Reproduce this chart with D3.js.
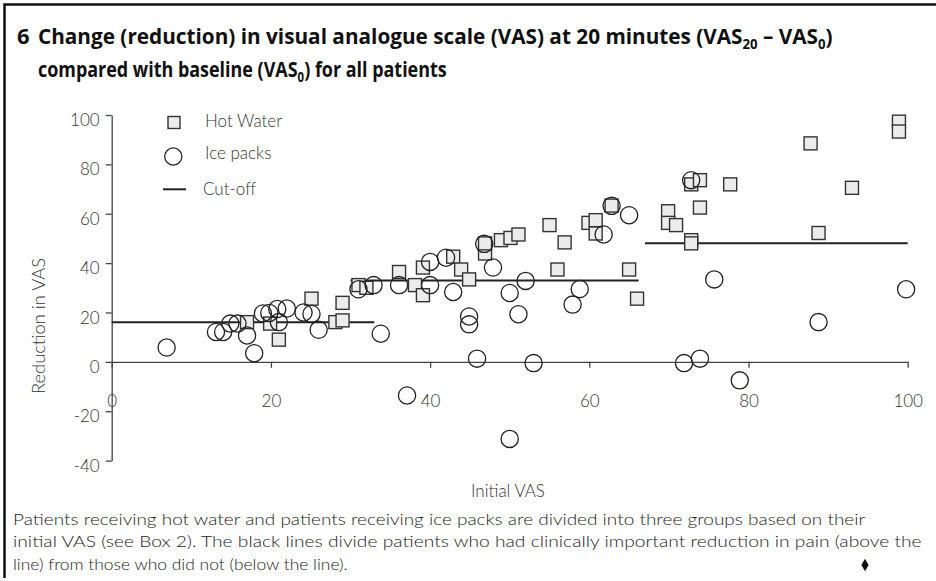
<!DOCTYPE html>
<html>
<head>
<meta charset="utf-8">
<script src="https://cdn.jsdelivr.net/npm/d3@7"></script>
<style>
  body { margin: 0; background: #fff; }
  svg { display: block; }
  .tick text { font-family: Lato, "Open Sans", sans-serif; font-weight: 300; font-size: 17px; fill: #333; }
  .axis path, .axis line { stroke: #444; stroke-width: 1.3; }
</style>
</head>
<body>
<svg id="chart" width="936" height="581"></svg>
<script>
// axis ticks
const xTicks = [0, 20, 40, 60, 80, 100];
const yTicks = [100, 80, 60, 40, 20, 0, -20, -40];

// hot water patients: initial VAS / reduction in VAS
const hotX = [17.0, 19.9, 21.0, 25.1, 28.1, 29.0, 29.0, 31.0, 32.0, 36.1, 38.1, 39.1, 39.1, 42.9, 43.9, 44.9,
  46.9, 46.9, 48.9, 50.1, 51.1, 55.0, 56.9, 56.0, 59.9, 60.8, 60.8, 62.8, 65.0, 66.0,
  69.9, 69.9, 70.9, 72.8, 73.9, 73.9, 72.8, 72.8, 77.7, 87.8, 88.8, 93.0, 98.9, 98.9];
const hotY = [16.1, 15.5, 9.0, 25.6, 16.1, 23.9, 16.8, 31.1, 30.0, 36.4, 31.1, 38.2, 27.0, 42.6, 37.4, 33.4,
  43.9, 48.0, 49.3, 50.2, 51.6, 55.4, 48.4, 37.4, 56.3, 57.4, 52.0, 63.3, 37.4, 25.6,
  61.0, 56.3, 55.4, 71.9, 73.6, 62.5, 49.3, 48.0, 71.9, 88.5, 52.2, 70.5, 97.3, 93.3];

// ice pack patients
const iceX = [6.9, 13.1, 14.0, 14.9, 15.8, 17.0, 17.9, 19.0, 19.8, 20.8, 22.0, 21.0, 24.1, 25.1, 26.0,
  31.0, 32.9, 33.8, 36.1, 37.1, 40.0, 40.0, 42.0, 42.9, 44.9, 44.9, 45.9, 46.8, 47.9, 50.0,
  51.1, 52.0, 53.0, 50.0, 57.9, 58.8, 61.8, 62.8, 65.0, 72.8, 75.7, 71.9, 73.9, 78.9, 88.8, 99.8];
const iceY = [5.8, 12.1, 12.1, 15.5, 15.5, 10.7, 3.5, 19.6, 19.8, 21.4, 21.6, 16.1, 20.0, 19.4, 13.0,
  29.4, 31.1, 11.4, 31.1, -13.6, 40.5, 31.1, 42.2, 28.3, 18.4, 15.2, 1.3, 47.8, 38.2, 27.9,
  19.3, 32.8, -0.5, -31.2, 23.2, 29.5, 51.6, 63.2, 59.4, 73.6, 33.4, -0.5, 1.3, -7.5, 16.1, 29.4];

// cut-off lines per initial VAS group
const cutFrom = [0, 30, 67];
const cutTo = [33, 66.2, 100];
const cutY = [16, 33, 48];

const legendLabels = ["Hot Water", "Ice packs", "Cut-off"];

const captionLines = [
  "Patients receiving hot water and patients receiving ice packs are divided into three groups based on their",
  "initial VAS (see Box 2). The black lines divide patients who had clinically important reduction in pain (above the",
  "line) from those who did not (below the line)."
];

const svg = d3.select("#chart");
const W = 936, H = 581;
svg.append("rect").attr("width", W).attr("height", H).attr("fill", "#fff");

// squeeze/stretch a text to a target width (the original uses a condensed face)
function fit(sel, x0, w) {
  const len = sel.node().getComputedTextLength();
  const s = w / len;
  sel.attr("transform", `translate(${x0},0) scale(${s},1) translate(${-x0},0)`);
}

// frame
svg.append("path")
  .attr("d", `M4.5,578 V4.5 H${W}`)
  .attr("fill", "none").attr("stroke", "#111").attr("stroke-width", 2.5);

// title
const tFont = "'Open Sans', 'DejaVu Sans', sans-serif";
svg.append("text").attr("x", 17).attr("y", 44)
  .attr("font-family", tFont).attr("font-weight", 700).attr("font-size", 22).attr("fill", "#111")
  .text("6");
const t1 = svg.append("text").attr("x", 38).attr("y", 44)
  .attr("font-family", tFont).attr("font-weight", 700).attr("font-size", 22).attr("fill", "#111");
t1.append("tspan").text("Change (reduction) in visual analogue scale (VAS) at 20 minutes (VAS");
t1.append("tspan").attr("font-size", 14).attr("dy", 5).text("20");
t1.append("tspan").attr("dy", -5).text(" \u2013 VAS");
t1.append("tspan").attr("font-size", 14).attr("dy", 5).text("0");
t1.append("tspan").attr("dy", -5).text(")");
fit(t1, 38, 795);

const t2 = svg.append("text").attr("x", 38).attr("y", 77)
  .attr("font-family", tFont).attr("font-weight", 700).attr("font-size", 22).attr("fill", "#111");
t2.append("tspan").text("compared with baseline (VAS");
t2.append("tspan").attr("font-size", 14).attr("dy", 5).text("0");
t2.append("tspan").attr("dy", -5).text(") for all patients");
fit(t2, 38, 409);

// scales
const x = d3.scaleLinear().domain([0, 100]).range([111.7, 907.7]);
const y = d3.scaleLinear().domain([-40, 100]).range([460.6, 115]);

// y axis
const gy = svg.append("g").attr("class", "axis")
  .attr("transform", `translate(${x(0)},0)`)
  .call(d3.axisLeft(y).tickValues(yTicks).tickSize(6).tickSizeOuter(0).tickPadding(6)
    .tickFormat(d => String(d)));
gy.selectAll(".tick text").attr("dy", "0.62em");

// x axis drawn through zero
const gx = svg.append("g").attr("class", "axis")
  .attr("transform", `translate(0,${y(0)})`)
  .call(d3.axisBottom(x).tickValues(xTicks).tickSize(6).tickSizeOuter(0).tickPadding(27)
    .tickFormat(d => String(d)));
gx.select(".tick line").attr("stroke-width", 2);

// axis titles
const bodyFont = "Lato, 'Open Sans', sans-serif";
svg.append("text")
  .attr("transform", "translate(45,326) rotate(-90)")
  .attr("text-anchor", "middle")
  .attr("font-family", bodyFont).attr("font-weight", 300).attr("font-size", 17).attr("fill", "#333")
  .attr("textLength", 136).attr("lengthAdjust", "spacingAndGlyphs")
  .text("Reduction in VAS");
svg.append("text")
  .attr("x", 508).attr("y", 497)
  .attr("text-anchor", "middle")
  .attr("font-family", bodyFont).attr("font-weight", 300).attr("font-size", 17).attr("fill", "#333")
  .text("Initial VAS");

// cut-off lines
svg.append("g").selectAll("line")
  .data(cutY)
  .join("line")
  .attr("x1", (d, i) => x(cutFrom[i]))
  .attr("x2", (d, i) => x(cutTo[i]))
  .attr("y1", d => y(d))
  .attr("y2", d => y(d))
  .attr("stroke", "#222").attr("stroke-width", 2);

// hot water squares
const sq = 13;
svg.append("g").selectAll("rect")
  .data(hotX)
  .join("rect")
  .attr("x", (d) => x(d) - sq / 2)
  .attr("y", (d, i) => y(hotY[i]) - sq / 2)
  .attr("width", sq).attr("height", sq)
  .attr("fill", "#ececec").attr("stroke", "#333").attr("stroke-width", 1.4);

// ice pack circles
svg.append("g").selectAll("circle")
  .data(iceX)
  .join("circle")
  .attr("cx", d => x(d))
  .attr("cy", (d, i) => y(iceY[i]))
  .attr("r", 8.6)
  .attr("fill", "none").attr("stroke", "#222").attr("stroke-width", 1.3);

// legend
const lg = svg.append("g");
lg.append("rect").attr("x", 168).attr("y", 116.5).attr("width", 12).attr("height", 12)
  .attr("fill", "#ececec").attr("stroke", "#333").attr("stroke-width", 1.4);
lg.append("circle").attr("cx", 173.3).attr("cy", 156.5).attr("r", 8.6)
  .attr("fill", "none").attr("stroke", "#222").attr("stroke-width", 1.3);
lg.append("line").attr("x1", 163).attr("x2", 186).attr("y1", 189.3).attr("y2", 189.3)
  .attr("stroke", "#222").attr("stroke-width", 2);
lg.selectAll("text")
  .data(legendLabels)
  .join("text")
  .attr("x", (d, i) => i === 2 ? 203 : 205)
  .attr("y", (d, i) => [120.7, 153, 189][i])
  .attr("dy", "0.35em")
  .attr("font-family", bodyFont).attr("font-weight", 300).attr("font-size", 17).attr("fill", "#333")
  .text(d => d);

// caption
const capW = [853, 909, 335];
svg.append("g").selectAll("text")
  .data(captionLines)
  .join("text")
  .attr("x", 13)
  .attr("y", (d, i) => 525 + i * 22.5)
  .attr("font-family", bodyFont).attr("font-weight", 300).attr("font-size", 16).attr("fill", "#222")
  .text(d => d)
  .each(function (d, i) { fit(d3.select(this), 13, capW[i]); });

svg.append("path")
  .attr("transform", "translate(865,565)")
  .attr("d", d3.symbol(d3.symbolDiamond, 45)())
  .attr("fill", "#111");
</script>
</body>
</html>
